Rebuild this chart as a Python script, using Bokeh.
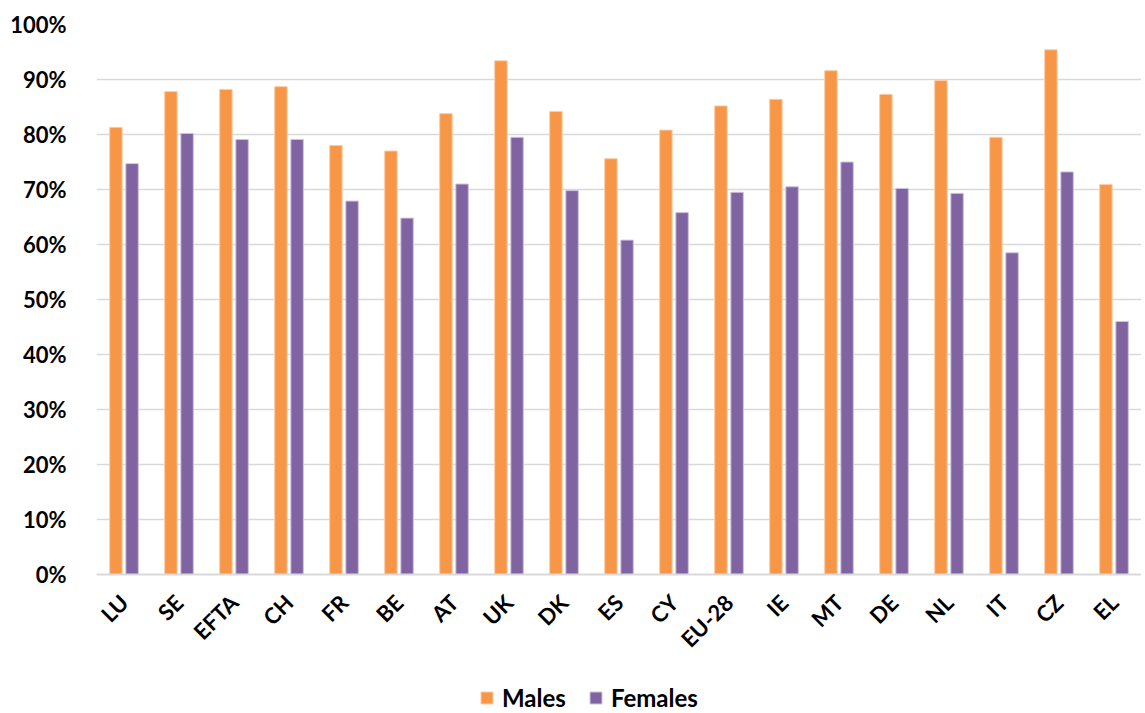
import math
from bokeh.plotting import figure
from bokeh.layouts import column
from bokeh.models import (ColumnDataSource, Range1d, Legend, LegendItem,
                          FixedTicker, PrintfTickFormatter)
from bokeh.transform import dodge
from bokeh.embed import file_html
from bokeh.resources import INLINE

categories = ["LU", "SE", "EFTA", "CH", "FR", "BE", "AT", "UK", "DK", "ES",
              "CY", "EU-28", "IE", "MT", "DE", "NL", "IT", "CZ", "EL"]
males = [81.3, 87.8, 88.2, 88.7, 78.0, 77.0, 83.8, 93.4, 84.2, 75.6,
         80.8, 85.2, 86.4, 91.6, 87.3, 89.8, 79.5, 95.4, 70.9]
females = [74.7, 80.2, 79.1, 79.1, 67.9, 64.8, 71.0, 79.5, 69.8, 60.8,
           65.8, 69.5, 70.5, 75.0, 70.2, 69.3, 58.5, 73.2, 46.0]
y_ticks = [0, 10, 20, 30, 40, 50, 60, 70, 80, 90, 100]
series_names = ["Males", "Females"]
series_colors = ["#F79646", "#8064A2"]
series_edges = ["#FBCDA6", "#CFC3DE"]

src = ColumnDataSource(dict(cat=categories, males=males, females=females))

FONT = "Lato"

p = figure(x_range=categories, y_range=Range1d(0, 100),
           frame_width=1045, frame_height=550,
           output_backend="svg", toolbar_location=None,
           min_border_left=96, min_border_top=24, min_border_right=0,
           min_border_bottom=109)

p.vbar(x=dodge("cat", -0.147, range=p.x_range), top="males", width=0.227,
       source=src, fill_color=series_colors[0], line_color=series_edges[0], line_width=1)
p.vbar(x=dodge("cat", 0.147, range=p.x_range), top="females", width=0.227,
       source=src, fill_color=series_colors[1], line_color=series_edges[1], line_width=1)

p.outline_line_color = None
p.background_fill_color = "white"
p.border_fill_color = "white"

p.xgrid.grid_line_color = None
p.ygrid.grid_line_color = "#D9D9D9"
p.ygrid.grid_line_width = 1.5

p.yaxis.ticker = FixedTicker(ticks=y_ticks)
p.yaxis.formatter = PrintfTickFormatter(format="%d%%")
p.yaxis.axis_line_color = None
p.yaxis.major_tick_line_color = None
p.yaxis.minor_tick_line_color = None
p.yaxis.major_label_text_font = FONT
p.yaxis.major_label_text_font_style = "bold"
p.yaxis.major_label_text_font_size = "22px"
p.yaxis.major_label_text_color = "black"
p.yaxis.major_label_standoff = 24

p.xaxis.axis_line_color = "#D9D9D9"
p.xaxis.axis_line_width = 2
p.xaxis.major_tick_line_color = None
p.xaxis.minor_tick_line_color = None
p.xaxis.major_label_orientation = math.pi / 4
p.xaxis.major_label_text_font = FONT
p.xaxis.major_label_text_font_style = "bold"
p.xaxis.major_label_text_font_size = "22px"
p.xaxis.major_label_text_color = "black"
p.xaxis.major_label_standoff = 18

# legend strip below the chart (its frame is aligned with the chart's frame)
lg = figure(width=1141, height=29, x_range=Range1d(0, 1), y_range=Range1d(0, 1),
            output_backend="svg", toolbar_location=None,
            x_axis_type=None, y_axis_type=None,
            min_border_left=0, min_border_right=0, min_border_top=0, min_border_bottom=0)
lg.outline_line_color = None
lg.xgrid.grid_line_color = None
lg.ygrid.grid_line_color = None
items = []
for name, col, edge in zip(series_names, series_colors, series_edges):
    # tiny placeholder bar, hidden beneath the opaque legend box
    r = lg.vbar(x=[0.45], top=[0.6], bottom=[0.4], width=0.01,
                fill_color=col, line_color=edge)
    items.append(LegendItem(label=name, renderers=[r]))
legend = Legend(items=items, orientation="horizontal", location=(383, 0),
                border_line_color=None, background_fill_color="white",
                background_fill_alpha=1,
                label_text_font=FONT, label_text_font_style="bold",
                label_text_font_size="24px", label_text_color="black",
                glyph_width=15, glyph_height=15, spacing=22,
                label_standoff=8, margin=0, padding=0, label_height=26)
lg.add_layout(legend, "center")

open("out.html", "w").write(file_html(column(p, lg, spacing=0), INLINE))
